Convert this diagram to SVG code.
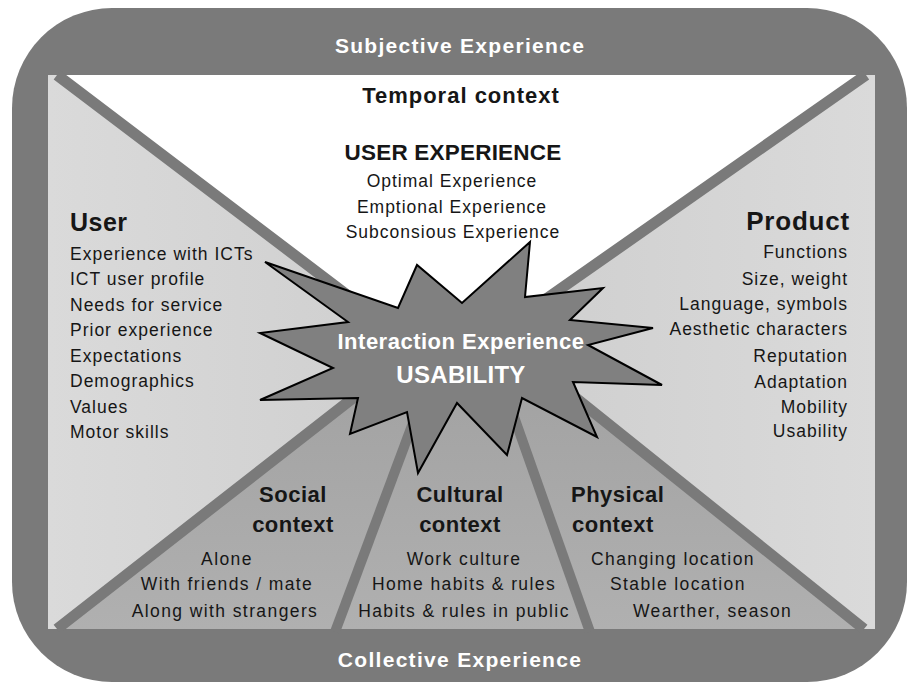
<svg xmlns="http://www.w3.org/2000/svg" width="907" height="683" viewBox="0 0 907 683">
<defs>
<style>
text{font-family:"Liberation Sans",Arial,sans-serif;fill:#161616}
.w{fill:#fff;font-weight:bold}
.b{font-weight:bold}
.it{font-size:17.5px;letter-spacing:1px}
.bi{font-size:17.5px;letter-spacing:1.4px}
.h2{font-size:22px;font-weight:bold;letter-spacing:0.5px}
.mid{text-anchor:middle}
.end{text-anchor:end}
.band{stroke:#7a7a7a;stroke-width:11;fill:none}
</style>
<linearGradient id="gL" gradientUnits="userSpaceOnUse" x1="48" y1="0" x2="461" y2="0">
<stop offset="0" stop-color="#dadada"/><stop offset="1" stop-color="#cdcdcd"/>
</linearGradient>
<linearGradient id="gR" gradientUnits="userSpaceOnUse" x1="875" y1="0" x2="461" y2="0">
<stop offset="0" stop-color="#dadada"/><stop offset="1" stop-color="#cdcdcd"/>
</linearGradient>
<linearGradient id="gB" gradientUnits="userSpaceOnUse" x1="0" y1="340" x2="0" y2="629">
<stop offset="0" stop-color="#a0a0a0"/><stop offset="1" stop-color="#b0b0b0"/>
</linearGradient>
</defs>
<rect width="907" height="683" fill="#fff"/>
<g id="frame">
<rect x="12" y="8" width="895" height="674" rx="100" fill="#7a7a7a"/>
</g>
<g id="subjective">
<text class="w mid" x="460" y="53" style="font-size:21px;letter-spacing:1.3px">Subjective Experience</text>
</g>
<g id="collective">
<text class="w mid" x="460" y="667" style="font-size:21px;letter-spacing:1.3px">Collective Experience</text>
</g>
<g id="user">
<polygon points="48,75 460,75 460,629 48,629" fill="url(#gL)"/>
<text class="b" x="70" y="231" style="font-size:25px;letter-spacing:0.5px">User</text>
<text class="it" x="70" y="260">Experience with ICTs</text>
<text class="it" x="70" y="285">ICT user profile</text>
<text class="it" x="70" y="311">Needs for service</text>
<text class="it" x="70" y="336">Prior experience</text>
<text class="it" x="70" y="362">Expectations</text>
<text class="it" x="70" y="387">Demographics</text>
<text class="it" x="70" y="413">Values</text>
<text class="it" x="70" y="438">Motor skills</text>
</g>
<g id="product">
<polygon points="460,75 875,75 875,629 460,629" fill="url(#gR)"/>
<text class="b end" x="850" y="230" style="font-size:26px;letter-spacing:0.8px">Product</text>
<text class="it end" x="848" y="258">Functions</text>
<text class="it end" x="848" y="285">Size, weight</text>
<text class="it end" x="848" y="310">Language, symbols</text>
<text class="it end" x="848" y="335">Aesthetic characters</text>
<text class="it end" x="848" y="362">Reputation</text>
<text class="it end" x="848" y="388">Adaptation</text>
<text class="it end" x="848" y="413">Mobility</text>
<text class="it end" x="848" y="437">Usability</text>
</g>
<g id="temporal">
<polygon points="57,75 866,75 496,334 417,348" fill="#fff"/>
<text class="b mid" x="461" y="103" style="font-size:22px;letter-spacing:1px">Temporal context</text>
<text class="b mid" x="453" y="160" style="font-size:22.5px;letter-spacing:0.2px">USER EXPERIENCE</text>
<text class="it mid" x="452" y="187">Optimal Experience</text>
<text class="it mid" x="452" y="213">Emptional Experience</text>
<text class="it mid" x="453" y="238">Subconsious Experience</text>
</g>
<g id="social">
<polygon points="57,629 335,629 429,380 417,348" fill="url(#gB)"/>
<text class="h2 mid" x="293" y="502">Social</text>
<text class="h2 mid" x="293" y="532">context</text>
<text class="bi mid" x="227" y="565">Alone</text>
<text class="bi mid" x="227" y="590">With friends / mate</text>
<text class="bi mid" x="225" y="617">Along with strangers</text>
</g>
<g id="cultural">
<polygon points="335,629 590,629 501,380 496,334 417,348 429,380" fill="url(#gB)"/>
<text class="h2 mid" x="460" y="502">Cultural</text>
<text class="h2 mid" x="460" y="532">context</text>
<text class="bi mid" x="464" y="565">Work culture</text>
<text class="bi mid" x="464" y="590">Home habits &amp; rules</text>
<text class="bi mid" x="464" y="617">Habits &amp; rules in public</text>
</g>
<g id="physical">
<polygon points="590,629 864,629 496,334 501,380" fill="url(#gB)"/>
<text class="h2" x="571" y="502">Physical</text>
<text class="h2" x="572" y="532">context</text>
<text class="bi" x="591" y="565">Changing location</text>
<text class="bi" x="610" y="590">Stable location</text>
<text class="bi" x="633" y="617">Wearther, season</text>
</g>
<g id="connectors">
<polyline class="band" points="57,75 417,348 57,629"/>
<polyline class="band" points="866,75 496,334 864,629"/>
<line class="band" x1="335" y1="632" x2="429" y2="380" style="stroke-width:10"/>
<line class="band" x1="590" y1="632" x2="501" y2="380" style="stroke-width:10"/>
</g>
<g id="interaction">
<polygon points="265,262 398,308 417,265 462,303 530,242 525,297 603,288 570,320 653,328 588,345 662,385 573,382 597,437 522,398 507,455 457,403 418,473 407,412 350,434 358,398 260,400 333,368 260,333 348,322" fill="#808080" stroke="#000" stroke-width="2" stroke-linejoin="miter"/>
<text class="w mid" x="461" y="349" style="font-size:22px;letter-spacing:0.5px">Interaction Experience</text>
<text class="w mid" x="461" y="383" style="font-size:24px;letter-spacing:0.3px">USABILITY</text>
</g>
</svg>
